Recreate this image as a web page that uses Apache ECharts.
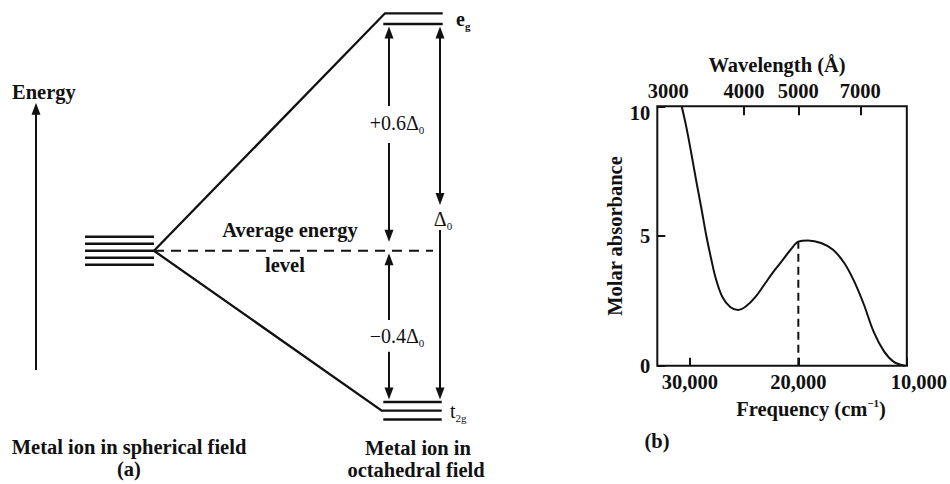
<!DOCTYPE html>
<html>
<head>
<meta charset="utf-8">
<script src="https://cdn.jsdelivr.net/npm/echarts@6/dist/echarts.min.js"></script>
<style>
  html, body { margin: 0; padding: 0; background: #fff; }
  #chart { width: 950px; height: 484px; }
</style>
</head>
<body>
<div id="chart"></div>
<script>
// ---------------- DATA ----------------
// (a) crystal-field splitting, energies in units of Δo relative to the average level
const levelAverage = 0;
const levelEg = 0.6;
const levelT2g = -0.4;
const countSpherical = 5;
const countEg = 2;
const countT2g = 3;

// (b) absorption spectrum
const frequency = [30750, 30300, 29850, 29400, 28950, 28500, 28050, 27600, 27000, 26250,
                   25550, 24850, 23950, 23050, 22150, 21450, 20750, 20000, 19100, 17900,
                   16800, 15750, 14850, 13950, 13050, 12100, 11200, 10150];
const absorbance = [10.0, 9.15, 8.15, 7.1, 6.1, 5.05, 4.15, 3.35, 2.65, 2.25,
                    2.15, 2.28, 2.65, 3.18, 3.7, 4.07, 4.45, 4.78, 4.83, 4.73,
                    4.47, 3.95, 3.25, 2.35, 1.3, 0.55, 0.15, 0.0];
const peakFrequency = 20000;
const peakAbsorbance = 4.8;
const frequencyTicks = [30000, 20000, 10000];
const wavelengthTicks = [3000, 4000, 5000, 7000];
const absorbanceTicks = [0, 5, 10];

// ---------------- LAYOUT ----------------
const FONT = "'Liberation Serif', 'Times New Roman', serif";
const BLACK = '#111';
const FS = 20.5;                      // bold label size
const Y0 = 250.8, S = 378;            // diagram: pixel of average level, pixels per Δo
const toPx = d => Y0 - d * S;
const toDelta = px => (Y0 - px) / S;
const HEAD = 12, TIP_GAP = 2.5;
const FREQ_MIN = 10000, FREQ_MAX = 33000;

function arrowSeg(x, fromPx, fromHead, endPx, endHead) {
  const dir = Math.sign(endPx - fromPx);
  const a = fromHead ? fromPx + dir * HEAD / 2 : fromPx;
  const b = endHead ? endPx - dir * HEAD / 2 : endPx;
  return [
    { coord: [x, toDelta(a)], symbol: fromHead ? 'triangle' : 'none', symbolSize: [9, HEAD] },
    { coord: [x, toDelta(b)], symbol: endHead ? 'triangle' : 'none', symbolSize: [9, HEAD] }
  ];
}

const diagramSeries = [];
function seg(points, extra) {
  diagramSeries.push(Object.assign({
    type: 'line', xAxisIndex: 2, yAxisIndex: 1, data: points, symbol: 'none',
    silent: true, animation: false,
    lineStyle: { color: BLACK, width: 2.5, cap: 'butt', join: 'miter' }
  }, extra || {}));
}

// spherical-field degenerate levels
for (let i = 0; i < countSpherical; i++) {
  const y = levelAverage + ((countSpherical - 1) / 2 - i) * toDelta(Y0 - 7);
  seg([[85, y], [154, y]]);
}
// eg levels (lowest at levelEg, the others stacked above)
const egStep = toDelta(Y0 - 10.7);
for (let i = 0; i < countEg; i++) {
  const y = levelEg + i * egStep;
  if (i === countEg - 1) seg([[154, levelAverage], [385, y], [442.7, y]], { lineStyle: { color: BLACK, width: 2.3, join: 'miter' } });
  else seg([[383.3, y], [442.7, y]]);
}
// t2g levels (highest at levelT2g, the others stacked below)
const t2gStep = toDelta(Y0 - 8.7);
for (let i = 0; i < countT2g; i++) {
  const y = levelT2g - i * t2gStep;
  if (i === 1) seg([[154, levelAverage], [381.7, y], [441.7, y]], { lineStyle: { color: BLACK, width: 2.3, join: 'miter' } });
  else seg([[383.3, y], [441.7, y]]);
}
// dashed average-energy line, with the arrows as mark lines
const egTip = toPx(levelEg) + TIP_GAP;
const t2gTip = toPx(levelT2g) - TIP_GAP;
seg([[154, levelAverage], [433, levelAverage]], {
  lineStyle: { color: BLACK, width: 2, type: [10, 7] },
  markLine: {
    silent: true, animation: false,
    label: { show: false },
    lineStyle: { color: BLACK, width: 2, type: 'solid' },
    emphasis: { disabled: true },
    data: [
      arrowSeg(389, egTip, true, 106, false),
      arrowSeg(389, 143, false, toPx(levelAverage) - 9, true),
      arrowSeg(389, toPx(levelAverage) + 2.5, true, 320, false),
      arrowSeg(389, 351.7, false, t2gTip, true),
      arrowSeg(440, egTip, true, 205, true),
      arrowSeg(440, 230, false, t2gTip, true),
      arrowSeg(36, 370, false, 102.7, true)
    ]
  }
});

// ---------------- TEXT ----------------
function txt(text, x, y, opts) {
  opts = opts || {};
  return {
    type: 'text', z: 100, silent: true,
    style: Object.assign({
      text: text, x: x, y: y,
      fontFamily: FONT, fontSize: opts.size || FS, fontWeight: opts.weight || 'bold',
      fill: BLACK, align: opts.align || 'center', verticalAlign: 'middle'
    }, opts.rich ? { rich: opts.rich } : {})
  };
}
const subRich = (weight) => ({
  n: { fontFamily: FONT, fontSize: 20, fontWeight: weight, fill: BLACK, lineHeight: 24, verticalAlign: 'middle' },
  s: { fontFamily: FONT, fontSize: 11, fontWeight: weight, fill: BLACK, lineHeight: 11, verticalAlign: 'bottom' }
});

const graphics = [
  txt('Energy', 12, 92, { align: 'left' }),
  txt('Average energy', 290, 230),
  txt('level', 285, 265),
  txt('{n|+0.6Δ}{s|0}', 397, 123, { rich: subRich('normal'), weight: 'normal' }),
  txt('{n|−0.4Δ}{s|0}', 397, 336, { rich: subRich('normal'), weight: 'normal' }),
  txt('{n|Δ}{s|0}', 443, 219, { rich: subRich('normal'), weight: 'normal' }),
  txt('{n|e}{s|g}', 456, 19, { rich: subRich('bold'), align: 'left' }),
  txt('{n|t}{s|2g}', 450, 411, { rich: subRich('normal'), weight: 'normal', align: 'left' }),
  txt('Metal ion in spherical field', 129, 447),
  txt('(a)', 129, 469),
  txt('Metal ion in', 418, 448),
  txt('octahedral field', 416, 470),
  txt('(b)', 657, 441)
];

// ---------------- CHART ----------------
const chart = echarts.init(document.getElementById('chart'), null, { renderer: 'svg' });
const labelFont = { fontFamily: FONT, fontWeight: 'bold', fontSize: FS, color: BLACK };
const tickStyle = { inside: true, length: 8, lineStyle: { color: BLACK, width: 2 } };

chart.setOption({
  animation: false,
  backgroundColor: '#fff',
  grid: [
    { left: 657.3, top: 106.3, width: 253.4, height: 259.4, show: true, borderColor: BLACK, borderWidth: 2, backgroundColor: 'transparent' },
    { left: 0, top: toPx(0.66), width: 480, height: 1.26 * S, show: false }
  ],
  xAxis: [
    {
      gridIndex: 0, type: 'value', position: 'bottom', inverse: true,
      min: FREQ_MIN, max: FREQ_MAX, interval: 10000,
      axisLine: { show: false }, splitLine: { show: false },
      axisTick: Object.assign({ customValues: frequencyTicks }, tickStyle),
      axisLabel: Object.assign({
        customValues: frequencyTicks, margin: 6,
        formatter: v => v === FREQ_MIN ? '{r|' + v.toLocaleString('en-US') + '}' : v.toLocaleString('en-US'),
        rich: { r: Object.assign({ padding: [0, 0, 0, 24] }, labelFont) }
      }, labelFont),
      name: '{a|Frequency (cm}{u|−1}{a|)}', nameLocation: 'middle', nameGap: 31,
      nameTextStyle: {
        padding: [0, 0, 0, 58],
        rich: {
          a: { fontFamily: FONT, fontWeight: 'bold', fontSize: FS, color: BLACK, lineHeight: 22, verticalAlign: 'middle' },
          u: { fontFamily: FONT, fontWeight: 'bold', fontSize: 11, color: BLACK, lineHeight: 11, verticalAlign: 'top' }
        }
      }
    },
    {
      gridIndex: 0, type: 'value', position: 'top', inverse: true,
      min: FREQ_MIN, max: FREQ_MAX, interval: 10000,
      axisLine: { show: false }, splitLine: { show: false },
      axisTick: Object.assign({ customValues: wavelengthTicks.map(w => 1e8 / w).filter(v => v <= FREQ_MAX) }, tickStyle, { length: 9 }),
      axisLabel: Object.assign({
        customValues: wavelengthTicks.map(w => Math.min(1e8 / w, FREQ_MAX - 1)),
        margin: 5,
        formatter: v => {
          const w = Math.round(1e8 / v / 100) * 100;
          return v > FREQ_MAX - 2 ? '{f|' + w + '}' : String(w);
        },
        rich: { f: Object.assign({ padding: [0, 0, 0, 22] }, labelFont) }
      }, labelFont),
      name: 'Wavelength (Å)', nameLocation: 'middle', nameGap: 27,
      nameTextStyle: Object.assign({ padding: [0, 10, 0, 0] }, labelFont)
    },
    { gridIndex: 1, type: 'value', min: 0, max: 480, show: false }
  ],
  yAxis: [
    {
      gridIndex: 0, type: 'value', min: 0, max: 10, interval: 5,
      axisLine: { show: false }, splitLine: { show: false },
      axisTick: Object.assign({ customValues: absorbanceTicks }, tickStyle),
      axisLabel: Object.assign({
        customValues: absorbanceTicks, margin: 7,
        formatter: v => v === 10 ? '{t|10}' : String(v),
        rich: { t: Object.assign({ padding: [13, 0, 0, 0] }, labelFont) }
      }, labelFont),
      name: 'Molar absorbance', nameLocation: 'middle', nameRotate: 90, nameGap: 28,
      nameTextStyle: labelFont
    },
    { gridIndex: 1, type: 'value', min: toDelta(1.26 * S + toPx(0.66)), max: 0.66, show: false }
  ],
  graphic: graphics,
  series: [
    {
      type: 'line', xAxisIndex: 0, yAxisIndex: 0, symbol: 'none', smooth: 0.35,
      silent: true, clip: false,
      data: frequency.map((f, i) => [f, absorbance[i]]),
      lineStyle: { color: BLACK, width: 2 }
    },
    {
      type: 'line', xAxisIndex: 0, yAxisIndex: 0, symbol: 'none', silent: true,
      data: [[peakFrequency, 0], [peakFrequency, peakAbsorbance]],
      lineStyle: { color: BLACK, width: 2, type: [8, 5] }
    }
  ].concat(diagramSeries)
});
</script>
</body>
</html>
